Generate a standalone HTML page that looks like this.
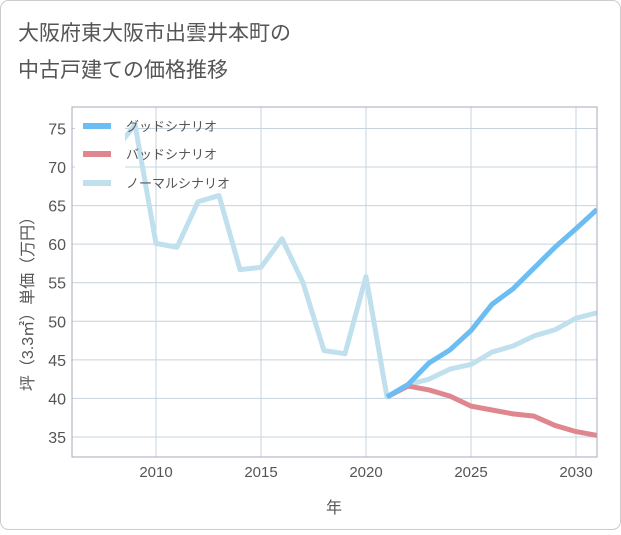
<!DOCTYPE html>
<html><head><meta charset="utf-8"><style>
body{margin:0;background:#fff;font-family:"Liberation Sans","Noto Sans CJK JP",sans-serif}
</style></head><body>
<svg id="c" width="621" height="530" xmlns="http://www.w3.org/2000/svg">
<rect x="0.5" y="0.5" width="620" height="529" rx="8" fill="#fff" stroke="#ccc"/>
<text x="18" y="40" font-size="21" fill="#555">大阪府東大阪市出雲井本町の</text>
<text x="18" y="77" font-size="21" fill="#555">中古戸建ての価格推移</text>
<g id="grid"></g>
<g id="lines"></g>
<rect x="72" y="107" width="525" height="350" fill="none" stroke="#aab"/>
<text x="334" y="513" font-size="16" fill="#555" text-anchor="middle">年</text>
<text transform="translate(33,300) rotate(-90)" font-size="16" fill="#555" text-anchor="middle">坪（3.3㎡）単価（万円）</text>
<g id="legend"></g>
</svg>
<script>
const years=[2008,2009,2010,2011,2012,2013,2014,2015,2016,2017,2018,2019,2020,2021,2022,2023,2024,2025,2026,2027,2028,2029,2030,2031];
const normal=[72,75.5,60.1,59.6,65.5,66.3,56.7,57,60.7,55,46.2,45.8,55.8,40.2,41.8,42.5,43.8,44.4,46,46.8,48.1,48.9,50.4,51.1];
const fyears=[2021,2022,2023,2024,2025,2026,2027,2028,2029,2030,2031];
const good=[40.2,41.8,44.6,46.3,48.8,52.2,54.2,56.9,59.6,62,64.5];
const bad=[40.2,41.6,41.1,40.3,39.0,38.5,38.0,37.7,36.5,35.7,35.2];
const xTicks=[2010,2015,2020,2025,2030];
const yTicks=[35,40,45,50,55,60,65,70,75];
const X=v=>72+(v-2006)*21, Y=v=>437-(v-35)*7.714;
const ns="http://www.w3.org/2000/svg";
function mk(t,a,p){const e=document.createElementNS(ns,t);for(const k in a)e.setAttribute(k,a[k]);p.appendChild(e);return e;}
const g=document.getElementById('grid');
for(let yr=2006;yr<=2031;yr++){const l=mk('line',{x1:X(yr),x2:X(yr),y1:107,y2:457,stroke:xTicks.includes(yr)?'#c5d3df':'none'},g);
}
xTicks.forEach(t=>{const e=mk('text',{x:X(t),y:477,'font-size':15,fill:'#555','text-anchor':'middle'},g);e.textContent=t;
});
yTicks.forEach(t=>{const l=mk('line',{x1:72,x2:597,y1:Y(t),y2:Y(t),stroke:'#c5d3df'},g);

const e=mk('text',{x:66,y:Y(t)+6,'font-size':16,fill:'#555','text-anchor':'end'},g);e.textContent=t;
});
const L=document.getElementById('lines');
mk('clipPath',{id:'cp'},L).appendChild(document.createElementNS(ns,'rect'));
const cr=L.querySelector('clipPath rect');cr.setAttribute('x',72);cr.setAttribute('y',107);cr.setAttribute('width',525);cr.setAttribute('height',350);
function line(xs,ys,col,name){const p=mk('polyline',{points:xs.map((x,i)=>X(x)+','+Y(ys[i])).join(' '),fill:'none',stroke:col,'stroke-width':5,'stroke-linejoin':'round','clip-path':'url(#cp)'},L);
}
line(years,normal,'#c0e0ee','normal-scenario-line');
line(fyears,bad,'#e0868f','bad-scenario-line');
line(fyears,good,'#6cbdf2','good-scenario-line');
const lg=document.getElementById('legend');
const r=mk('rect',{x:75,y:110,width:50,height:90,fill:'#fff'},lg);
[['グッドシナリオ','#6cbdf2',126],['バッドシナリオ','#e0868f',154],['ノーマルシナリオ','#c0e0ee',183]].forEach(([t,c,y],i)=>{
const l=mk('line',{x1:83,x2:111,y1:y,y2:y,stroke:c,'stroke-width':6},lg);
const e=mk('text',{x:126,y:y+5,'font-size':13,fill:'#555'},lg);e.textContent=t;});
</script>
</body></html>
